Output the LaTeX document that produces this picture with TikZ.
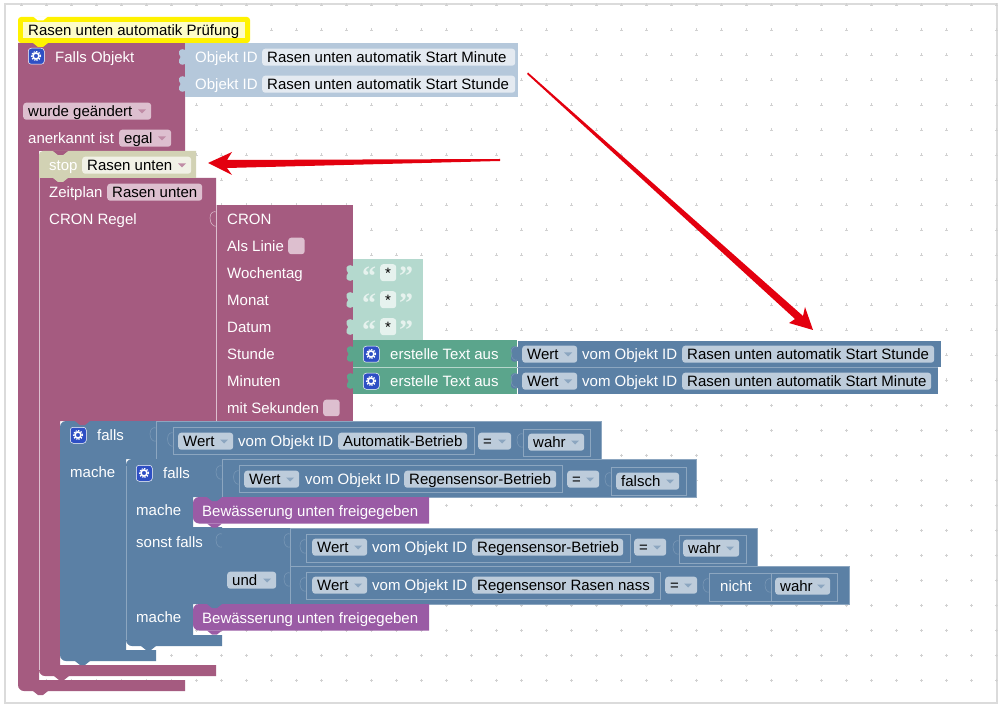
\documentclass[tikz,border=0pt]{standalone}
\usepackage{fontspec}
\setmainfont{Liberation Sans}
\newfontfamily\quotefont{Liberation Serif}
\usepackage{tikz}
\usetikzlibrary{calc}
\definecolor{prog}{HTML}{A55B80}
\definecolor{proglight}{HTML}{DDBFCF}
\definecolor{logic}{HTML}{5B80A5}
\definecolor{logicedge}{HTML}{8CA6C0}
\definecolor{logiclight}{HTML}{BDCCDB}
\definecolor{idblock}{HTML}{B5C8DB}
\definecolor{idfield}{HTML}{E4EAF1}
\definecolor{txtblock}{HTML}{B4D9CE}
\definecolor{txtfield}{HTML}{E6F2EE}
\definecolor{green}{HTML}{5BA58C}
\definecolor{call}{HTML}{9A5BA5}
\definecolor{stopblock}{HTML}{D2D2B4}
\definecolor{stopfield}{HTML}{F1F1E6}
\definecolor{note}{HTML}{FDFCC8}
\definecolor{gear}{HTML}{2E4FC4}
\definecolor{arrowred}{HTML}{E3000F}
\tikzset{
  label/.style={inner sep=0pt, anchor=west, yshift=-0.7pt, text=white, font=\fontsize{15}{15}\selectfont, text height=10pt, text depth=0pt},
  darklabel/.style={label, text=black},
  quotelabel/.style={label, text=txtfield, font=\fontsize{28}{28}\quotefont\bfseries},
  fieldbox/.style={inner sep=0pt, anchor=north west, rounded corners=3pt},
  valblock/.style={fill=logic, draw=logicedge, line width=.6pt},
  socket/.style={draw=logicedge!60!logic, line width=.6pt, fill=none},
}
% #1 name, #2 x, #3 y centre, #4 x end, #5 fill, #6 text
\newcommand{\plainfield}[6]{
  \node[fieldbox, fill=#5, minimum width=#4pt-#2pt, minimum height=17pt] (#1) at (#2,#3-8.5) {};
  \node[darklabel] (#1t) at (#2+5,#3) {#6};
}
% same, with a drop down mark, #7 mark colour
\newcommand{\dropfield}[7]{
  \plainfield{#1}{#2}{#3}{#4}{#5}{#6}
  \fill[#7] (#4-13,#3-1.5) -- (#4-5,#3-1.5) -- (#4-9,#3+2.5) -- cycle;
}
\newcommand{\blockicon}[3]{
  \node[fieldbox, fill=gear, draw=white, line width=.5pt, minimum size=16pt] (#1) at (#2,#3) {};
  \draw[white, line width=1.6pt] (#2+8,#3+8) circle (3pt);
  \draw[white, line width=1pt, dash pattern=on 1.5pt off 1.2pt] (#2+8,#3+8) circle (4.6pt);
}
\newcommand{\tabshape}[3]{
  \fill[#3] (#1,#2-7) .. controls (#1-3,#2-9) and (#1-7,#2-7) .. (#1-6,#2-3)
    .. controls (#1-4,#2-1) and (#1-4,#2+1) .. (#1-6,#2+3)
    .. controls (#1-7,#2+7) and (#1-3,#2+9) .. (#1,#2+7) -- (#1+1,#2+7) -- (#1+1,#2-7) -- cycle;
}
\newcommand{\darktab}[2]{
  \draw[socket] (#1,#2-7) .. controls (#1-2,#2-8) and (#1-6,#2-7) .. (#1-6,#2-1)
    .. controls (#1-6,#2+5) and (#1-2,#2+7) .. (#1,#2+6);
}
\newcommand{\notchshape}[3]{
  \fill[#3] (#1,#2) -- (#1+5,#2+4) -- (#1+10,#2+4) -- (#1+15,#2) -- cycle;
}
\begin{document}
\begin{tikzpicture}[x=1pt,y=-1pt]
  \useasboundingbox (0,0) rectangle (1001,708);
  % Sheet and grid
  \fill[white] (0,0) rectangle (1001,708);
  \draw[black!14, line width=1.2pt] (5,4) rectangle (997,703);
  \foreach \gx in {0,...,39}
    \foreach \gy in {0,...,27}
      \draw[black!18, line width=.5pt] ({21.7+25*\gx-1.5},{5+25*\gy}) -- ++(3,0) ({21.7+25*\gx},{5+25*\gy-1.5}) -- ++(0,3);

  % Outer trigger block
  \fill[prog] (18,43) -- (185,43) -- (185,151) -- (39,151) -- (39,680) -- (185,680) -- (185,691)
    [rounded corners=6pt] -- (18,691) [sharp corners] -- cycle;
  \notchshape{33}{691}{prog}
  % Schedule block
  \fill[prog] (39,178) -- (216,178) -- (216,421) -- (60,421) -- (60,665) -- (216,665) -- (216,676)
    [rounded corners=6pt] -- (39,676) [sharp corners] -- cycle;
  \draw[proglight, line width=.5pt] (39,178) -- (39,670);
  \notchshape{54}{676}{prog}
  % Cron block
  \fill[prog] (217,205) rectangle (352.5,421);
  \draw[proglight, line width=.5pt] (216.5,205) -- (216.5,421);
  \draw[proglight, line width=.5pt] (216.5,212) .. controls (214,211) and (210,212) .. (210,218) .. controls (210,224) and (214,227) .. (216.5,226);

  % Text blocks
  \fill[txtblock] (352.5,259) rectangle (423,340.5);
  \foreach \ty/\tname in {273/wday,300/month,327/day}{
    \tabshape{352.5}{\ty}{txtblock}
    \plainfield{\tname}{380}{\ty-0.5}{396}{txtfield}{*}
    \node[quotelabel] (\tname o) at (362,\ty+7) {“};
    \node[quotelabel] (\tname c) at (399,\ty+7) {”};
  }
  % Join blocks
  \fill[green] (353,340.5) rectangle (517,367);
  \fill[green] (353,367) rectangle (517,393.5);
  \draw[white!55!green, line width=.5pt] (353,367) -- (517,367);
  \tabshape{353}{354}{green}
  \tabshape{353}{381}{green}
  % Value rows
  \fill[logic] (517,341) rectangle (941,367);
  \fill[logic] (517,367) rectangle (938,394);
  \draw[white, line width=.5pt] (517.5,341) -- (517.5,394);
  \draw[logicedge, line width=.5pt] (517,367) -- (938,367);
  \tabshape{517}{354}{logic}
  \tabshape{517}{381}{logic}

  % Object blocks
  \fill[idblock] (185,43) rectangle (518,97);
  \tabshape{185}{57}{idblock}
  \tabshape{185}{84}{idblock}
  \node[label, text=white] (objA) at (195,57) {Objekt ID};
  \node[label, text=white] (objB) at (195,84) {Objekt ID};
  \plainfield{objAf}{262}{57}{515}{idfield}{Rasen unten automatik Start Minute}
  \plainfield{objBf}{262}{84}{515}{idfield}{Rasen unten automatik Start Stunde}

  % Comment
  \fill[yellow, rounded corners=3pt] (18,17) rectangle (250,43);
  \notchshape{33}{43}{yellow}
  \fill[note] (23,22) rectangle (245,38);
  \node[darklabel] (noteT) at (28,30) {Rasen unten automatik Prüfung};
  \notchshape{33}{16.5}{white}

  % Trigger contents
  \blockicon{iconA}{28}{48}
  \node[label] (ifobj) at (55,57) {Falls Objekt};
  \dropfield{changed}{23}{111}{151}{proglight}{wurde geändert}{prog!70}
  \node[label] (ack) at (28,138) {anerkannt ist};
  \dropfield{ackf}{119}{138}{171}{proglight}{egal}{prog!70}

  % Stop block
  \fill[stopblock] (39,156) [rounded corners=4pt] -- (39,151) [sharp corners] -- (196,151) -- (196,178) -- (39,178) -- cycle;
  \notchshape{53}{151}{prog}
  \notchshape{53}{178}{stopblock}
  \node[label] (stopL) at (49,165) {stop};
  \dropfield{stopf}{82}{165}{191}{stopfield}{Rasen unten}{prog!70}
  % Schedule contents
  \node[label] (sched) at (49,192) {Zeitplan};
  \plainfield{schedf}{107}{192}{202}{proglight}{Rasen unten}
  \node[label] (cronrule) at (49,219) {CRON Regel};
  % Cron contents
  \foreach \cy/\cname/\ctext in {219/a/CRON,246/b/Als Linie,273/c/Wochentag,300/d/Monat,327/e/Datum,354/f/Stunde,381/g/Minuten,408/h/mit Sekunden}
    \node[label] (cron\cname) at (227,\cy) {\ctext};
  \node[fieldbox, fill=proglight, minimum size=16.5pt] (lineBox) at (288,237.5) {};
  \node[fieldbox, fill=proglight, minimum size=16.5pt] (secBox) at (323,399.5) {};
  % Join contents
  \blockicon{iconB}{363}{346}
  \blockicon{iconC}{363}{373}
  \node[label] (joinA) at (390,354) {erstelle Text aus};
  \node[label] (joinB) at (390,381) {erstelle Text aus};
  \darktab{517}{354}
  \darktab{517}{381}
  \foreach \ry/\rname/\rtext/\rend in {354/hour/Rasen unten automatik Start Stunde/934,381/min/Rasen unten automatik Start Minute/931}{
    \dropfield{\rname w}{522}{\ry}{577}{logiclight}{Wert}{logic!70}
    \node[label] (\rname v) at (582,\ry) {vom Objekt ID};
    \plainfield{\rname f}{682}{\ry}{\rend}{logiclight}{\rtext}
  }

  % Outer if block
  \fill[logic] (100,421) -- (156,421) -- (156,459) -- (126,459) -- (126,650) -- (156,650) -- (156,661)
    [rounded corners=6pt] -- (60,661) -- (60,421) [sharp corners] -- cycle;
  \notchshape{75}{421}{prog}
  \notchshape{75}{661}{logic}
  \draw[logicedge, line width=.5pt] (156.5,421) -- (156.5,459);
  \fill[valblock] (156,421) rectangle (601,459);
  \darktab{156}{435}
  \draw[valblock] (173.5,427) rectangle (474,454);
  \darktab{173.5}{440}
  \blockicon{iconD}{70}{427}
  \node[label] (ifA) at (97,435) {falls};
  \node[label] (doA) at (70,472) {mache};
  \dropfield{wA}{178}{441}{233}{logiclight}{Wert}{logic!70}
  \node[label] (vA) at (238,441) {vom Objekt ID};
  \plainfield{idA}{338}{441}{467}{logiclight}{Automatik-Betrieb}
  \dropfield{eqA}{478}{441}{511}{logiclight}{=}{logic!70}
  \draw[valblock] (523,429) rectangle (590,456);
  \darktab{523}{441}
  \dropfield{bA}{528}{442}{584}{logiclight}{wahr}{logic!70}

  % Inner if block
  \fill[logic] (180,459) -- (222,459) -- (222,497) -- (193,497) -- (193,527) -- (222,527) -- (222,604) -- (193,604) -- (193,635) -- (222,635) -- (222,646)
    [rounded corners=6pt] -- (126,646) -- (126,459) [sharp corners] -- cycle;
  \draw[logicedge, line width=.5pt] (126,640) -- (126,466);
  \notchshape{141}{459}{logic}
  \notchshape{141}{646}{logic}
  \blockicon{iconE}{136}{465}
  \node[label] (ifB) at (163,473) {falls};
  \node[label] (doB) at (136,510) {mache};
  \node[label] (elif) at (136,542) {sonst falls};
  \node[label] (doC) at (136,617) {mache};

  % Inner condition
  \fill[valblock] (222,459) rectangle (696,497);
  \darktab{222}{473}
  \draw[valblock] (239.5,465) rectangle (562.5,492);
  \darktab{239.5}{478}
  \dropfield{wB}{244}{479}{299}{logiclight}{Wert}{logic!70}
  \node[label] (vB) at (305,479) {vom Objekt ID};
  \plainfield{idB}{404}{479}{556}{logiclight}{Regensensor-Betrieb}
  \dropfield{eqB}{567}{479}{599}{logiclight}{=}{logic!70}
  \draw[valblock] (611,467) rectangle (686,495);
  \darktab{611}{480}
  \dropfield{bB}{616}{481}{679}{logiclight}{falsch}{logic!70}

  % And block
  \fill[logic] (222,528) rectangle (290,604);
  \darktab{222}{541}
  \dropfield{andf}{227}{580}{276}{logiclight}{und}{logic!70}
  \fill[valblock] (290,528) rectangle (757,566);
  \fill[valblock] (290,566) rectangle (849,604);
  \darktab{290}{541}
  \darktab{290}{580}
  \draw[valblock] (306,534) rectangle (630,562);
  \darktab{306}{547}
  \dropfield{wC}{312}{547}{367}{logiclight}{Wert}{logic!70}
  \node[label] (vC) at (372,547) {vom Objekt ID};
  \plainfield{idC}{472}{547}{623}{logiclight}{Regensensor-Betrieb}
  \dropfield{eqC}{634}{547}{666}{logiclight}{=}{logic!70}
  \draw[valblock] (679,535) rectangle (746,563);
  \darktab{679}{548}
  \dropfield{bC}{683}{548}{739}{logiclight}{wahr}{logic!70}
  \draw[valblock] (306,572) rectangle (660,599);
  \darktab{306}{585}
  \dropfield{wD}{312}{585}{367}{logiclight}{Wert}{logic!70}
  \node[label] (vD) at (372,585) {vom Objekt ID};
  \plainfield{idD}{472}{585}{654}{logiclight}{Regensensor Rasen nass}
  \dropfield{eqD}{665}{585}{697}{logiclight}{=}{logic!70}
  \draw[valblock] (709,573) rectangle (837,601);
  \darktab{709}{586}
  \node[label] (notL) at (720,586) {nicht};
  \draw[logicedge, line width=.6pt] (771,573) -- (771,601);
  \darktab{771}{586}
  \dropfield{bD}{775}{586}{830}{logiclight}{wahr}{logic!70}

  % Function calls
  \foreach \py/\pname in {497/callA,604/callB}{
    \fill[call] (222,\py) -- (429,\py) -- (429,\py+26.5)
      [rounded corners=6pt] -- (193,\py+26.5) -- (193,\py) [sharp corners] -- cycle;
    \notchshape{207}{\py}{logic}
    \notchshape{207}{\py+26.5}{call}
    \node[label] (\pname) at (202,\py+14) {Bewässerung unten freigegeben};
  }

  % Red arrows
  \coordinate (tailA) at (500,159);
  \coordinate (tipA) at (208,163);
  \coordinate (tailB) at (528,72.5);
  \coordinate (tipB) at (813,330);
  \fill[arrowred] (tailA) -- (500,161) -- (227,168) -- (232,175) -- (tipA) -- (232,152) -- (227,160) -- cycle;
  \fill[arrowred] (tailB) -- (803,316) -- (805,307) -- (tipB) -- (789,323) -- (795,319) -- (527,74) -- cycle;
\end{tikzpicture}
\end{document}
